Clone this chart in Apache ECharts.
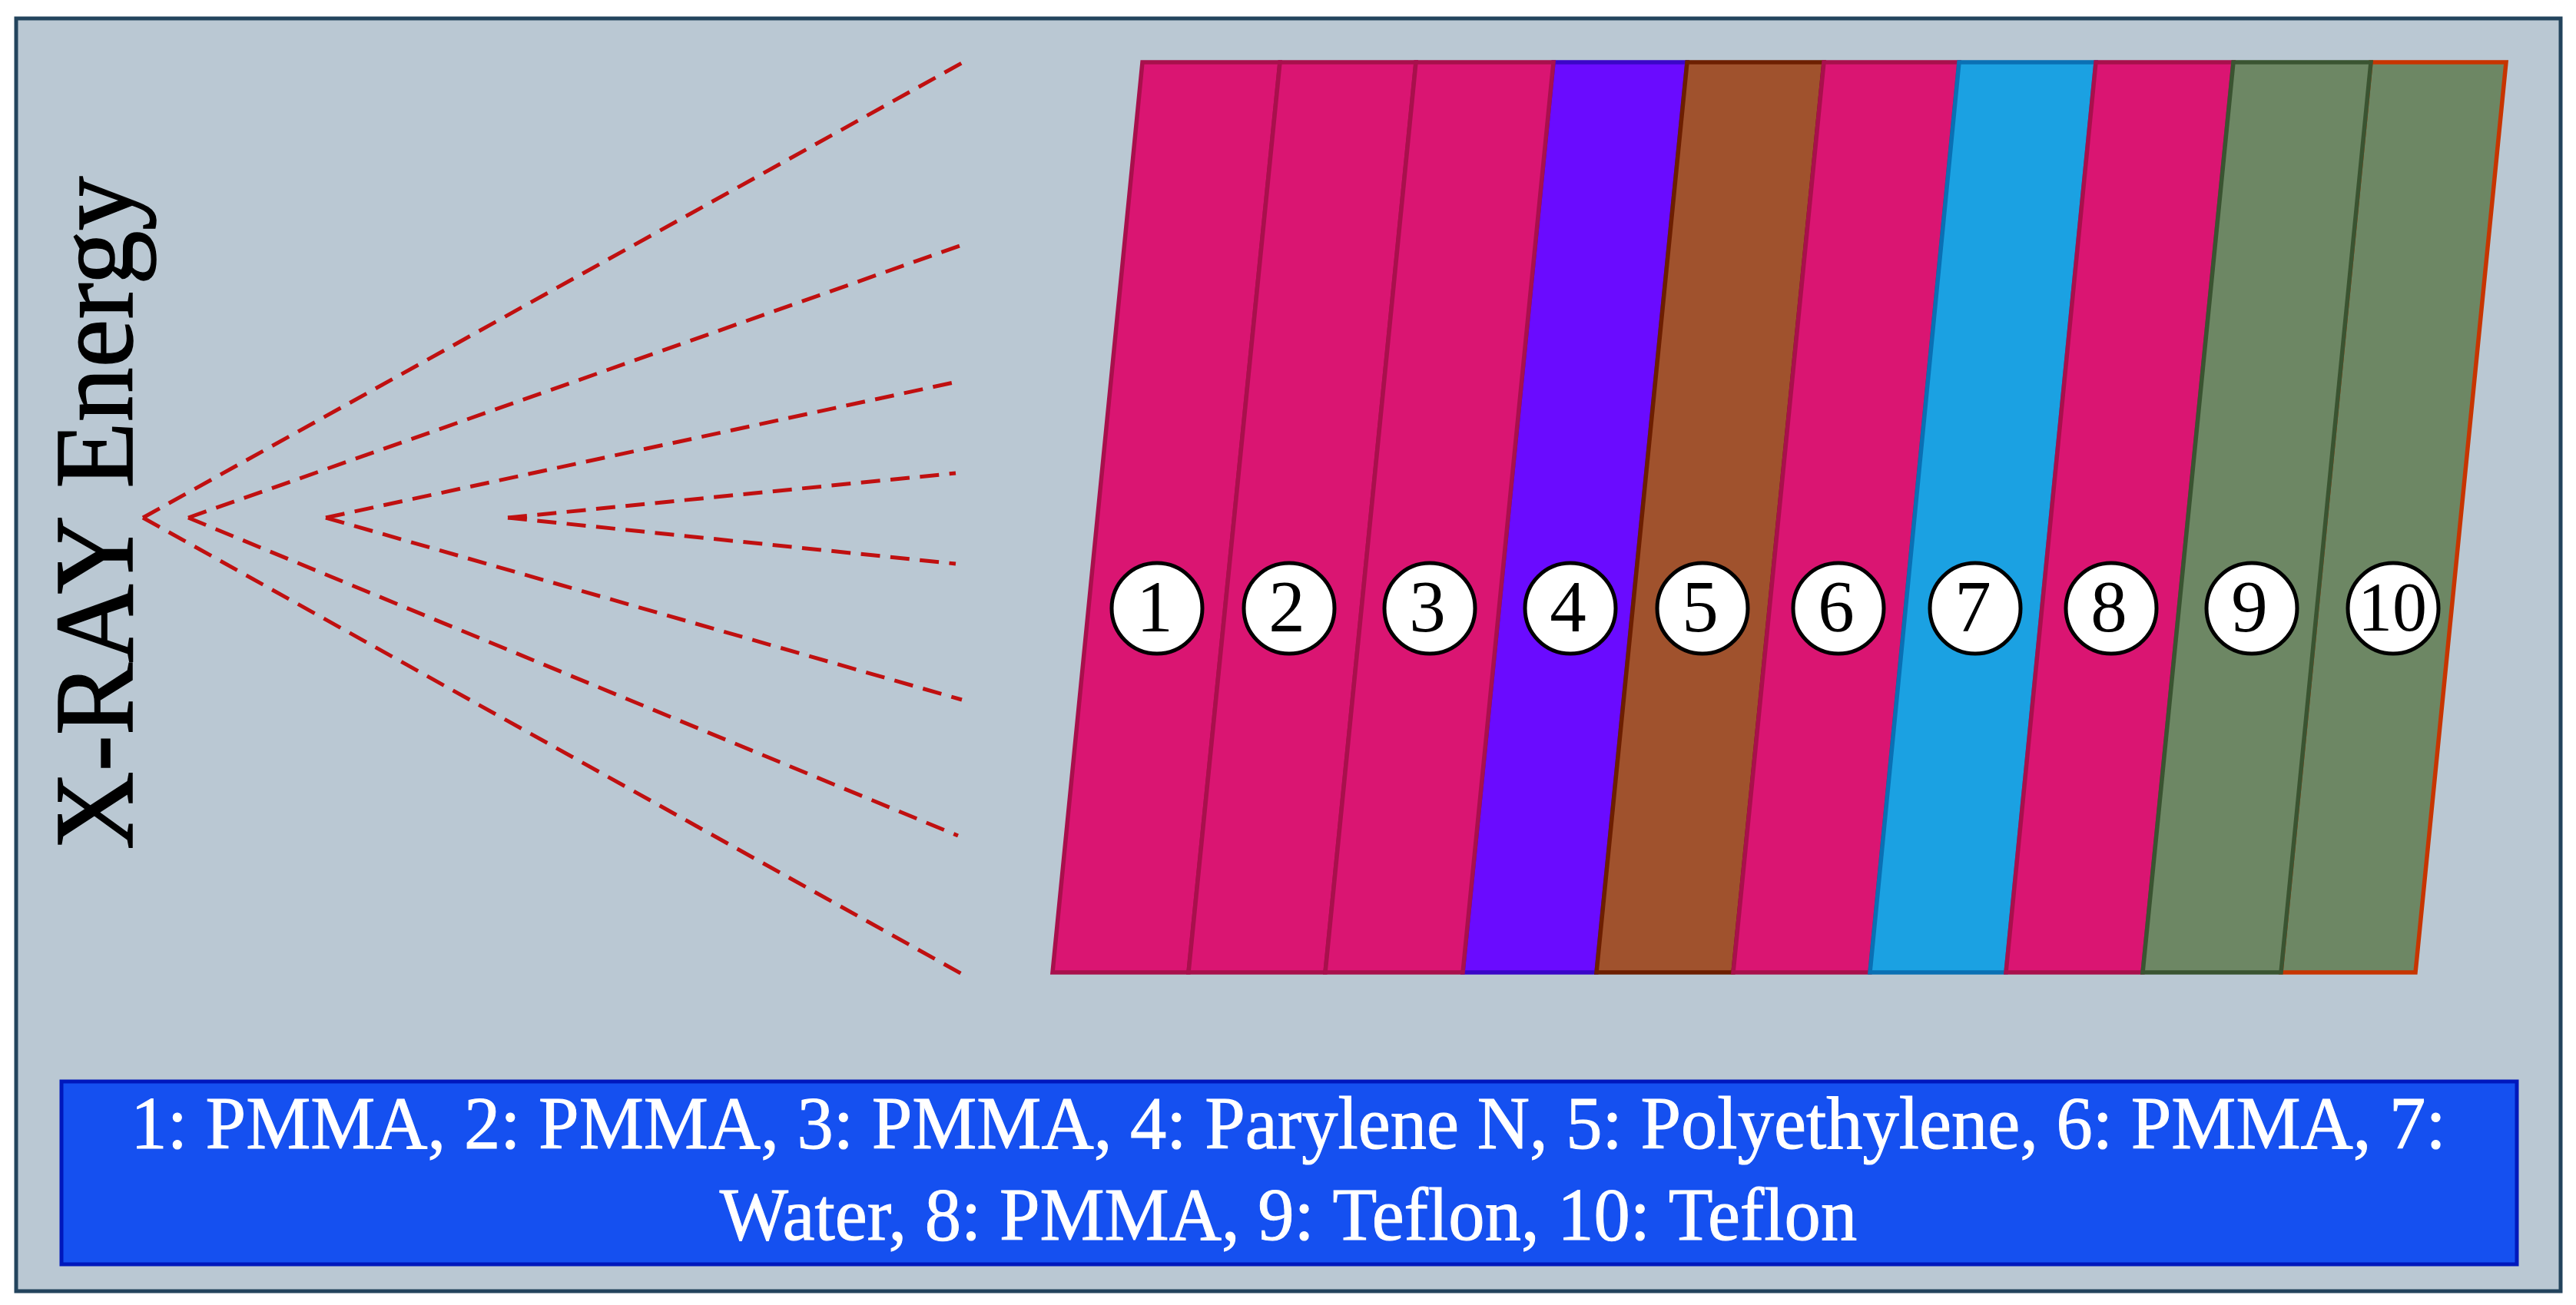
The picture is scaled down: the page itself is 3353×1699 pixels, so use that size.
<!DOCTYPE html>
<html>
<head>
<meta charset="utf-8">
<title>X-RAY Energy</title>
<script src="https://cdn.jsdelivr.net/npm/echarts@6/dist/echarts.min.js"></script>
<style>
  html, body { margin: 0; padding: 0; background: #fff; }
  #chart { width: 3353px; height: 1699px; }
</style>
</head>
<body>
<div id="chart"></div>
<script>
/***data***/
var layerNames = ['1', '2', '3', '4', '5', '6', '7', '8', '9', '10'];
var materials = ['PMMA', 'PMMA', 'PMMA', 'Parylene N', 'Polyethylene', 'PMMA', 'Water', 'PMMA', 'Teflon', 'Teflon'];
var legendLines = [
  '1: PMMA, 2: PMMA, 3: PMMA, 4: Parylene N, 5: Polyethylene, 6: PMMA, 7:',
  'Water, 8: PMMA, 9: Teflon, 10: Teflon'
];
var axisTitle = 'X-RAY Energy';

// layer boundaries, in the units of the x axis
var topEdge = [1487, 1666, 1843, 2022, 2196, 2374, 2550, 2728, 2907, 3086, 3262];
var bottomEdge = [1370, 1547, 1725, 1904, 2078, 2256, 2434, 2611, 2789, 2969, 3144];
var topLevel = 81;
var bottomLevel = 1266;

// number badges
var badgeX = [1506, 1678, 1861, 2044, 2216, 2393, 2571, 2748, 2931, 3115];
var badgeY = [792, 792, 792, 792, 792, 792, 792, 792, 792, 792];

// dashed rays
var rayStartX = [186, 245, 424, 661, 661, 424, 245, 186];
var rayStartY = [674, 674, 674, 674, 674, 674, 674, 674];
var rayEndX = [1252, 1252, 1241, 1244, 1244, 1252, 1247, 1252];
var rayEndY = [82, 319, 498, 616, 734, 911, 1088, 1268];

/***styles***/
var FONT = '"Liberation Serif"';
var fillOf = {
  'PMMA': '#da1572',
  'Parylene N': '#6a0bff',
  'Polyethylene': '#a0522d',
  'Water': '#1ba1e2',
  'Teflon': '#6d8764'
};
var strokeOf = {
  'PMMA': '#a8104c',
  'Parylene N': '#3a06c8',
  'Polyethylene': '#6d1f00',
  'Water': '#0a70b4',
  'Teflon': '#3a5431'
};
// layer 4 and 10 go underneath so that their neighbours' edge shows on the shared line
var drawOrder = [3, 9, 0, 1, 2, 4, 5, 6, 7, 8];

var slabData = drawOrder.map(function (i) {
  return [topEdge[i], topEdge[i + 1], bottomEdge[i + 1], bottomEdge[i], i];
});

var raySeries = rayEndX.map(function (x, i) {
  return {
    type: 'line',
    silent: true,
    symbol: 'none',
    z: 3,
    lineStyle: { color: '#c01010', width: 5, type: [25, 13.5] },
    data: [[rayStartX[i], rayStartY[i]], [x, rayEndY[i]]]
  };
});

function legendText(line, y) {
  return {
    type: 'text', z: 2,
    x: 1677, y: y, scaleX: 0.965, originX: 0, originY: 0,
    style: { text: line, fill: '#fff', stroke: '#fff', lineWidth: 1, font: '98px ' + FONT, align: 'center', verticalAlign: 'middle' }
  };
}

var myChart = echarts.init(document.getElementById('chart'));

var option = {
  animation: false,
  backgroundColor: '#ffffff',
  grid: { left: 0, right: 0, top: 0, bottom: 0 },
  xAxis: { type: 'value', min: 0, max: 3353, show: false },
  yAxis: { type: 'value', min: 0, max: 1699, inverse: true, show: false },
  graphic: [
    {
      type: 'rect', z: 0,
      shape: { x: 21, y: 24, width: 3312, height: 1657 },
      style: { fill: '#bac8d3', stroke: '#23445d', lineWidth: 5 }
    },
    {
      type: 'rect', z: 1,
      shape: { x: 80, y: 1408, width: 3196, height: 238 },
      style: { fill: '#1550f0', stroke: '#0018bc', lineWidth: 5 }
    },
    legendText(legendLines[0], 1469),
    legendText(legendLines[1], 1588),
    {
      type: 'text', z: 2,
      x: 134, y: 668, rotation: Math.PI / 2, scaleX: 0.97,
      style: { text: axisTitle, fill: '#000', stroke: '#000', lineWidth: 1.5, font: '146px ' + FONT, align: 'center', verticalAlign: 'middle' }
    }
  ],
  series: raySeries.concat([
    {
      type: 'custom',
      silent: true,
      z: 4,
      data: slabData,
      encode: { x: [0, 1, 2, 3] },
      renderItem: function (params, api) {
        var layer = api.value(4);
        var isLast = layer === 9;
        return {
          type: 'polygon',
          shape: {
            points: [
              api.coord([api.value(0), topLevel]),
              api.coord([api.value(1), topLevel]),
              api.coord([api.value(2), bottomLevel]),
              api.coord([api.value(3), bottomLevel])
            ]
          },
          style: {
            fill: fillOf[materials[layer]],
            stroke: isLast ? '#c73500' : strokeOf[materials[layer]],
            lineWidth: 5.5,
            lineJoin: 'miter'
          }
        };
      }
    },
    {
      type: 'scatter',
      silent: true,
      z: 5,
      symbol: 'circle',
      symbolSize: 118,
      itemStyle: { color: '#fff', borderColor: '#000', borderWidth: 5, opacity: 1 },
      label: {
        show: true,
        position: 'inside',
        offset: [-3, 5],
        color: '#000',
        fontFamily: FONT,
        fontSize: 95,
        formatter: function (p) { return layerNames[p.dataIndex]; }
      },
      data: badgeX.map(function (x, i) {
        return i === 9
          ? { value: [x, badgeY[i]], label: { fontSize: 90, offset: [-1, 5] } }
          : [x, badgeY[i]];
      })
    }
  ])
};
myChart.setOption(option);
</script>
</body>
</html>
